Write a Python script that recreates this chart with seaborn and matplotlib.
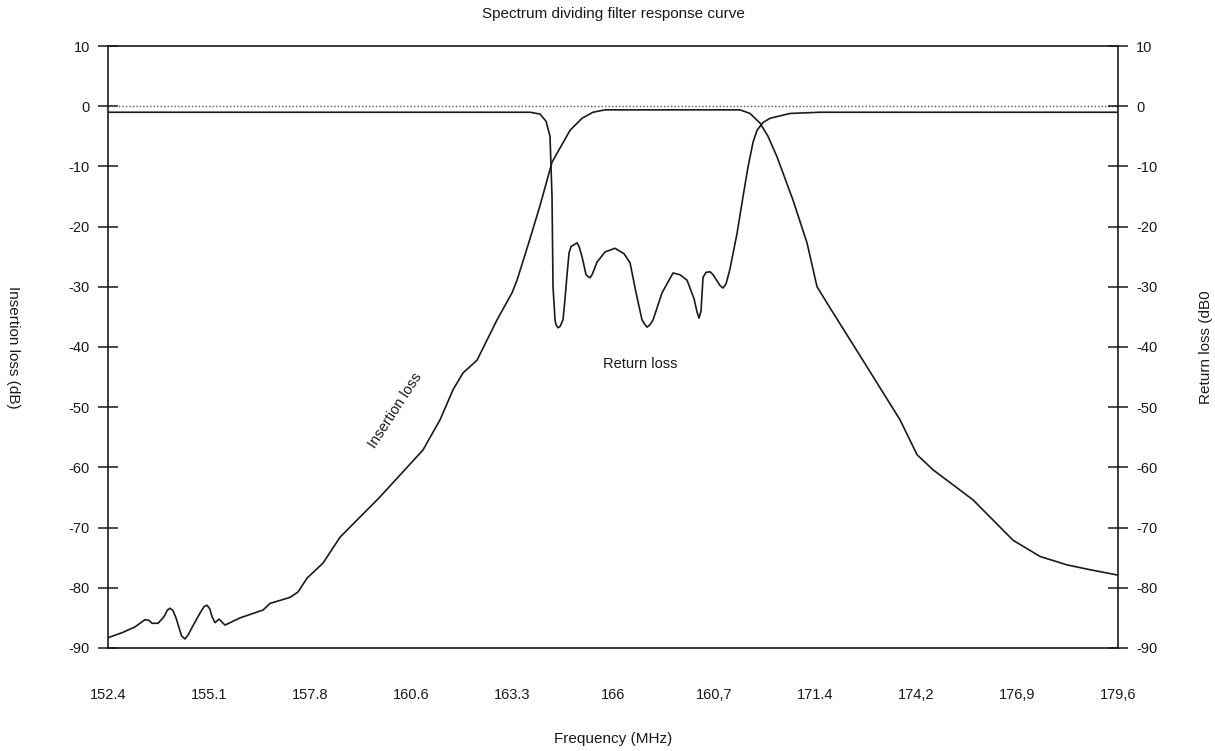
import numpy as np
import pandas as pd
import seaborn as sns
import matplotlib
matplotlib.use("Agg")
import matplotlib.pyplot as plt

# insertion loss curve (frequency MHz, dB)
il_freq = [152.400, 152.804, 153.127, 153.396, 153.500, 153.585, 153.747, 153.908,
           154.000, 154.070, 154.150, 154.231, 154.380, 154.474, 154.560, 154.662,
           154.878, 154.990, 155.066, 155.140, 155.201, 155.282, 155.389, 155.551,
           155.955, 156.574, 156.763, 157.301, 157.517, 157.759, 158.190, 158.648,
           159.725, 160.883, 161.341, 161.691, 161.960, 162.337, 162.876, 163.280,
           163.415, 163.765, 164.034, 164.357, 164.842, 165.165, 165.461, 165.785,
           169.420, 169.689, 169.958, 170.174, 170.416, 170.847, 171.224, 171.494,
           171.844, 172.840, 173.729, 174.187, 174.618, 175.695, 176.772, 177.499,
           178.227, 178.846, 179.600]
il_db = [-88.3, -87.4, -86.5, -85.3, -85.4, -85.9, -85.9, -84.8,
         -83.7, -83.4, -83.8, -85.0, -88.0, -88.5, -87.8, -86.6,
         -84.2, -83.1, -82.9, -83.5, -84.8, -85.8, -85.2, -86.2,
         -85.0, -83.7, -82.6, -81.6, -80.7, -78.4, -75.9, -71.6,
         -64.9, -57.1, -52.1, -47.1, -44.3, -42.2, -35.5, -31.0,
         -28.9, -22.0, -16.5, -9.3, -4.0, -2.0, -1.0, -0.6,
         -0.6, -1.2, -2.8, -5.0, -8.4, -15.6, -22.7, -30.0,
         -33.5, -43.3, -52.1, -57.9, -60.4, -65.4, -72.1, -74.8,
         -76.2, -77.0, -77.9]

# return loss curve
rl_freq = [152.400, 163.765, 164.034, 164.196, 164.303, 164.357, 164.384, 164.438,
           164.465, 164.519, 164.573, 164.653, 164.707, 164.761, 164.815, 164.869,
           164.977, 165.031, 165.085, 165.165, 165.273, 165.327, 165.381, 165.434,
           165.488, 165.569, 165.785, 166.054, 166.296, 166.458, 166.620, 166.781,
           166.862, 166.916, 166.997, 167.078, 167.320, 167.616, 167.805, 167.993,
           168.182, 168.263, 168.317, 168.371, 168.398, 168.425, 168.505, 168.613,
           168.694, 168.882, 168.963, 169.044, 169.151, 169.340, 169.501, 169.635,
           169.770, 169.878, 170.039, 170.228, 170.767, 171.575, 179.600]
rl_db = [-1.0, -1.0, -1.3, -2.5, -5.0, -15.0, -30.0, -35.5,
         -36.3, -36.8, -36.6, -35.5, -32.0, -28.0, -24.4, -23.3,
         -22.9, -22.7, -23.3, -25.0, -28.0, -28.3, -28.5, -28.0,
         -27.2, -25.9, -24.2, -23.6, -24.5, -26.0, -31.0, -35.5,
         -36.3, -36.7, -36.3, -35.5, -31.0, -27.7, -28.0, -28.9,
         -32.0, -34.2, -35.2, -34.0, -31.0, -28.4, -27.6, -27.5,
         -28.0, -29.8, -30.2, -29.5, -27.0, -21.1, -15.0, -10.1,
         -6.0, -4.0, -2.7, -2.0, -1.2, -1.0, -1.0]

# tick labels as printed on the original (evenly spaced)
x_labels = ["152.4", "155.1", "157.8", "160.6", "163.3", "166",
            "160,7", "171.4", "174,2", "176,9", "179,6"]
y_ticks = [10, 0, -10, -20, -30, -40, -50, -60, -70, -80, -90]

il = pd.DataFrame({"freq": il_freq, "db": il_db})
rl = pd.DataFrame({"freq": rl_freq, "db": rl_db})

sns.set_style("white")
plt.rcParams["font.family"] = ["Liberation Sans", "DejaVu Sans"]

fig = plt.figure(figsize=(12.15, 7.51), dpi=100)
ax = fig.add_axes([0.0889, 0.1372, 0.8313, 0.8015])

ax.axhline(0, color="#555555", linestyle=(0, (1, 1.5)), linewidth=1.0, zorder=1)
sns.lineplot(data=il, x="freq", y="db", ax=ax, sort=False, estimator=None,
             color="#1a1a1a", linewidth=1.2)
sns.lineplot(data=rl, x="freq", y="db", ax=ax, sort=False, estimator=None,
             color="#1a1a1a", linewidth=1.2)

ax.set_xlim(152.4, 179.6)
ax.set_ylim(-90, 10)
x_pos = np.linspace(152.4, 179.6, len(x_labels))
ax.set_xticks(x_pos)
ax.set_xticklabels(x_labels)
ax.set_yticks(y_ticks)
ax.set_yticklabels([str(v) for v in y_ticks])

for s in ax.spines.values():
    s.set_color("#1a1a1a")
    s.set_linewidth(1.2)

ax.tick_params(axis="x", direction="inout", length=17, width=1.1, pad=20,
               labelsize=10.5, colors="#1a1a1a")
ax.tick_params(axis="y", direction="inout", length=14, width=1.1, pad=6,
               labelsize=10.5, colors="#1a1a1a")

ax2 = ax.twinx()
ax2.set_ylim(-90, 10)
ax2.set_yticks(y_ticks)
ax2.set_yticklabels([str(v) for v in y_ticks])
ax2.tick_params(axis="y", direction="inout", length=14, width=1.1, pad=6,
                labelsize=10.5, colors="#1a1a1a")
for s in ax2.spines.values():
    s.set_visible(False)

ax.set_title("Spectrum dividing filter response curve", fontsize=11, pad=20,
             color="#1a1a1a")
ax.set_xlabel("Frequency (MHz)", fontsize=11, labelpad=22, color="#1a1a1a")
ax.set_ylabel("Insertion loss (dB)", fontsize=11, rotation=270, labelpad=40,
              color="#1a1a1a", va="center")
ax2.set_ylabel("Return loss (dB0", fontsize=11, rotation=90, labelpad=30,
               color="#1a1a1a")

ax.text(166.73, -42.8, "Return loss", fontsize=10.5, ha="center", va="center",
        color="#1a1a1a")
ax.text(160.13, -50.5, "Insertion loss", fontsize=10.5, ha="center", va="center",
        rotation=57, color="#1a1a1a")

fig.savefig("out.png", dpi=100)
